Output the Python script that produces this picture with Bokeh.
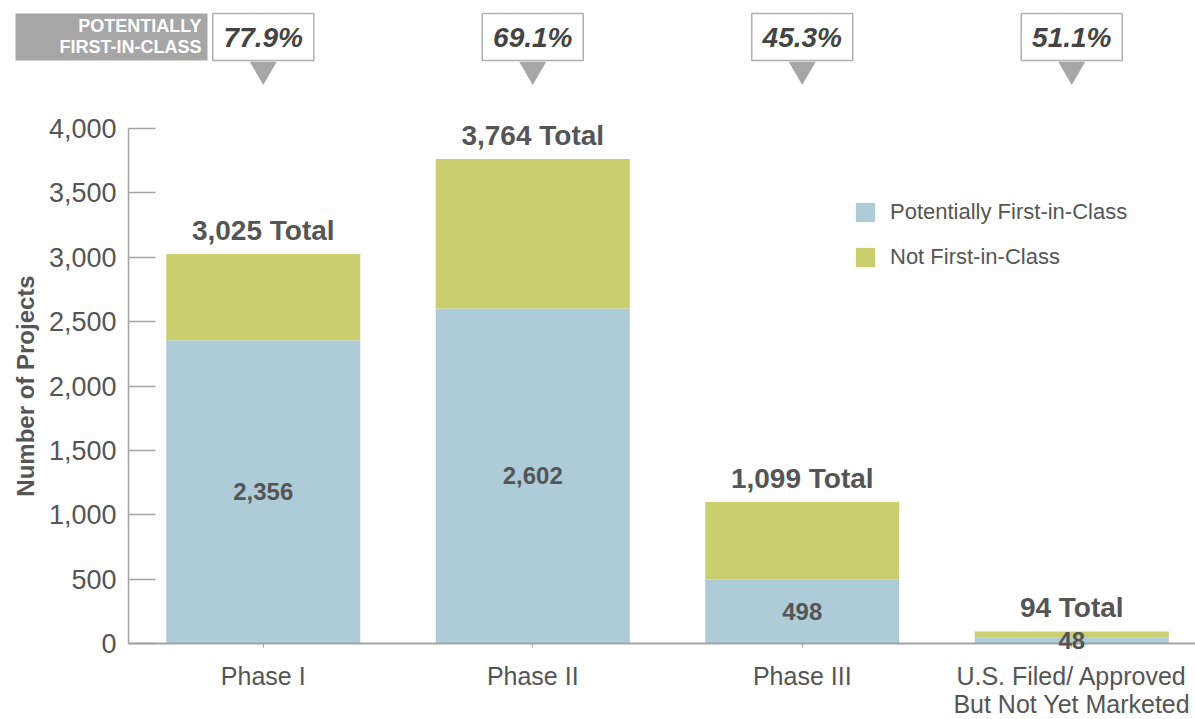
import math
from bokeh.plotting import figure
from bokeh.models import Range1d, FixedTicker, NumeralTickFormatter, Legend, LegendItem, ColumnDataSource
from bokeh.embed import file_html
from bokeh.resources import INLINE
from bokeh.core.properties import value

# ---------------- data ----------------
categories = ["Phase I", "Phase II", "Phase III", "U.S. Filed/ Approved\nBut Not Yet Marketed"]
first_in_class = [2356, 2602, 498, 48]
not_first_in_class = [669, 1162, 601, 46]
series_names = ["Potentially First-in-Class", "Not First-in-Class"]
y_ticks = [0, 500, 1000, 1500, 2000, 2500, 3000, 3500, 4000]
badge_lines = ["POTENTIALLY", "FIRST-IN-CLASS"]
y_title = "Number of Projects"

# ---------------- style / geometry ----------------
FONT = "Liberation Sans"
BLUE = "#AECBD8"
GREEN = "#CBCE6E"
TEXT = "#555555"
AXIS = "#A3A3A3"
GREY_FILL = "#A6A6A6"

W, H = 1195, 719
PPX = 269.5          # pixels per category step
PPY = 0.12875        # pixels per project
AXIS_LEFT_PX = 128   # where the value axis sits
AXIS_TOP_PX = 128    # where 4,000 sits
X_MIN = -0.5 - AXIS_LEFT_PX / PPX
X_MAX = X_MIN + W / PPX
Y_MAX = 4000 + AXIS_TOP_PX / PPY
Y_MIN = Y_MAX - H / PPY


def dx(page_x):
    return X_MIN + page_x / PPX


def dy(page_y):
    return Y_MAX - page_y / PPY


xs = list(range(len(categories)))
totals = [a + b for a, b in zip(first_in_class, not_first_in_class)]
src = ColumnDataSource(dict(
    x=xs,
    first=first_in_class,
    total=totals,
    mid=[v / 2 for v in first_in_class],
    total_lbl=[f"{t:,} Total" for t in totals],
    first_lbl=[f"{v:,}" for v in first_in_class],
    pct=[f"{100 * a / t:.1f}%" for a, t in zip(first_in_class, totals)],
))

p = figure(width=W, height=H, x_range=Range1d(X_MIN, X_MAX), y_range=Range1d(Y_MIN, Y_MAX),
           output_backend="svg", toolbar_location=None, min_border=0)
p.outline_line_color = None
p.grid.visible = False
p.background_fill_color = "white"

r1 = p.vbar(x="x", width=0.72, bottom=0, top="first", fill_color=BLUE, line_color=None, source=src)
r2 = p.vbar(x="x", width=0.72, bottom="first", top="total", fill_color=GREEN, line_color=None, source=src)

p.text(x="x", y="total", text="total_lbl", text_align="center", text_baseline="bottom", y_offset=-8,
       text_font=value(FONT), text_font_style="bold", text_font_size="28px", text_color=TEXT, source=src)
p.text(x="x", y="mid", text="first_lbl", text_align="center", text_baseline="middle",
       text_font=value(FONT), text_font_style="bold", text_font_size="24px", text_color=TEXT,
       source=src, level="overlay")

# y axis (fixed at the category start)
ya = p.yaxis[0]
ya.fixed_location = -0.5
ya.ticker = FixedTicker(ticks=y_ticks)
ya.formatter = NumeralTickFormatter(format="0,0")
ya.bounds = (0, 4000)
ya.major_tick_in = 27
ya.major_tick_out = 0
ya.minor_tick_line_color = None
ya.axis_line_color = AXIS
ya.axis_line_width = 1.5
ya.major_tick_line_color = AXIS
ya.major_tick_line_width = 1.5
ya.major_label_standoff = 12
ya.major_label_text_font = FONT
ya.major_label_text_font_size = "27px"
ya.major_label_text_color = TEXT

p.text(x=[dx(25)], y=[2000], text=[y_title], angle=math.pi / 2, text_align="center",
       text_baseline="middle", text_font=value(FONT), text_font_style="bold",
       text_font_size="24px", text_color=TEXT)

# x axis (fixed at zero)
xa = p.xaxis[0]
xa.fixed_location = 0
xa.bounds = (-0.5, X_MAX)
xa.ticker = FixedTicker(ticks=xs)
xa.major_label_overrides = {i: c for i, c in zip(xs, categories)}
xa.major_tick_in = 0
xa.major_tick_out = 4
xa.minor_tick_line_color = None
xa.axis_line_color = AXIS
xa.axis_line_width = 2
xa.major_tick_line_color = AXIS
xa.major_label_standoff = 14
xa.major_label_text_font = FONT
xa.major_label_text_font_size = "25px"
xa.major_label_text_color = TEXT
xa.major_label_text_line_height = 1.0

legend = Legend(items=[LegendItem(label=series_names[0], renderers=[r1]),
                       LegendItem(label=series_names[1], renderers=[r2])],
                location=(853, 449), glyph_width=24, glyph_height=24, spacing=19,
                label_standoff=13, padding=0, margin=0,
                label_text_font=FONT, label_text_font_size="22px", label_text_color=TEXT,
                border_line_color=None, background_fill_alpha=0)
p.add_layout(legend)

# ---------------- callouts ----------------
p.rect(x=[dx(111)], y=[dy(36.5)], width=192, height=47, width_units="screen", height_units="screen",
       fill_color=GREY_FILL, line_color=None)
p.text(x=[dx(201), dx(201)], y=[dy(25), dy(46)], text=badge_lines, text_align="right",
       text_baseline="middle", text_font=value(FONT), text_font_style="bold",
       text_font_size="18px", text_color="white")

p.rect(x="x", y=dy(36.5), width=101, height=47, width_units="screen", height_units="screen",
       fill_color="white", line_color="#B0B0B0", line_width=1.5, source=src)
p.text(x="x", y=dy(37), text="pct", text_align="center", text_baseline="middle",
       text_font=value(FONT), text_font_style="bold italic", text_font_size="28px",
       text_color="#444444", source=src)
p.scatter(x="x", y=dy(69), marker="inverted_triangle", size=27, fill_color=GREY_FILL,
          line_color=None, source=src)

open("out.html", "w").write(file_html(p, INLINE))
